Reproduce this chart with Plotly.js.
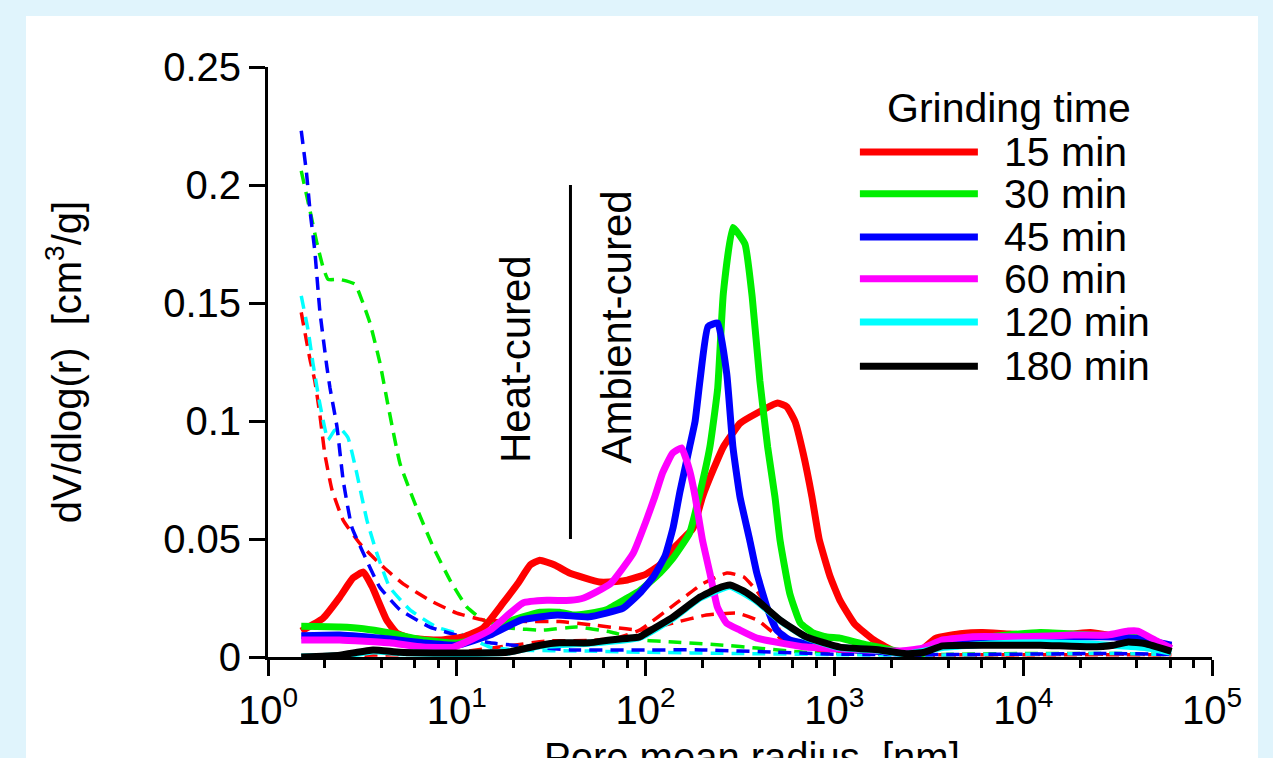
<!DOCTYPE html>
<html>
<head>
<meta charset="utf-8">
<script src="https://cdn.plot.ly/plotly-3.0.1.min.js"></script>
<style>
  html, body { margin: 0; padding: 0; background: rgb(224,244,252); width: 1273px; height: 758px; overflow: hidden; }
  #chart { position: absolute; left: 26px; top: 16px; width: 1232px; height: 742px; background: #ffffff; }
</style>
</head>
<body>
<div id="chart"></div>
<script>
// ---------- data (pore mean radius in nm, dV/dlog(r) in cm3/g) ----------
// Ambient-cured (solid lines)
const r15 = [1.5, 1.96, 2.4, 2.82, 3.2, 3.55, 4.25, 4.8, 5.65, 8.1, 10.8, 13.8, 17.6, 21, 24.5, 27.5, 33, 39.5, 57, 70, 80, 100, 119, 140, 178, 200, 230, 258, 290, 316, 390, 500, 560, 620, 683, 760, 830, 950, 1070, 1280, 1600, 2000, 2400, 2800, 3430, 4770, 6100, 8500, 12300, 18000, 22700, 27900, 36000, 45000, 61000];
const v15 = [0.011, 0.0165, 0.0254, 0.0335, 0.036, 0.030, 0.0157, 0.0102, 0.008, 0.0072, 0.0085, 0.0123, 0.0229, 0.031, 0.039, 0.041, 0.039, 0.0356, 0.0318, 0.032, 0.0326, 0.035, 0.039, 0.046, 0.0545, 0.0678, 0.080, 0.089, 0.095, 0.099, 0.1034, 0.1076, 0.106, 0.0996, 0.0864, 0.068, 0.050, 0.034, 0.024, 0.014, 0.0075, 0.003, 0.001, 0.002, 0.0079, 0.010, 0.0104, 0.0097, 0.0093, 0.0097, 0.0104, 0.0093, 0.0075, 0.0065, 0.0043];

const r30 = [1.5, 2.4, 3.2, 4.4, 6.6, 10, 12.5, 15, 19, 22.4, 27.6, 35, 41, 50, 62, 80, 93, 119, 140, 171, 194, 219, 241, 258, 290, 336, 367, 403, 443, 484, 515, 580, 660, 770, 910, 1070, 1390, 2180, 2690, 3000, 3740, 6650, 12300, 22700, 40000, 61000];
const v30 = [0.013, 0.0127, 0.012, 0.0102, 0.0072, 0.0059, 0.0075, 0.0102, 0.015, 0.017, 0.019, 0.019, 0.0178, 0.0185, 0.020, 0.025, 0.028, 0.0356, 0.042, 0.0525, 0.0695, 0.089, 0.114, 0.154, 0.182, 0.175, 0.1525, 0.117, 0.089, 0.068, 0.0496, 0.027, 0.0144, 0.0102, 0.0085, 0.008, 0.0057, 0.0024, 0.0, 0.002, 0.0064, 0.0086, 0.0104, 0.0093, 0.0085, 0.0036];

const r45 = [1.5, 2.4, 4.4, 6.6, 10, 15, 22, 34, 50, 76, 93, 110, 127, 140, 152, 171, 183, 194, 214, 241, 269, 290, 316, 356, 388, 440, 495, 580, 870, 1300, 2000, 2700, 3700, 6000, 10000, 20000, 30000, 40000, 61000];
const v45 = [0.009, 0.0093, 0.0076, 0.006, 0.005, 0.0093, 0.0157, 0.0178, 0.017, 0.0207, 0.027, 0.034, 0.043, 0.055, 0.070, 0.089, 0.100, 0.117, 0.140, 0.1415, 0.120, 0.089, 0.068, 0.0496, 0.0356, 0.021, 0.0114, 0.0072, 0.0042, 0.003, 0.002, 0.001, 0.005, 0.0075, 0.0078, 0.0085, 0.0085, 0.0078, 0.005];

const r60 = [1.5, 2.4, 4.4, 6.6, 9.6, 15, 22.4, 30, 40, 47, 65, 86, 101, 112, 123, 139, 155, 171, 183, 200, 219, 240, 268, 316, 388, 515, 710, 1000, 1500, 2200, 2900, 3740, 5400, 10000, 18500, 28000, 36000, 40500, 52000, 61000];
const v60 = [0.0072, 0.0072, 0.006, 0.0042, 0.0042, 0.0114, 0.0229, 0.024, 0.024, 0.025, 0.031, 0.044, 0.058, 0.068, 0.078, 0.0864, 0.0886, 0.079, 0.068, 0.0496, 0.0356, 0.0212, 0.0144, 0.0114, 0.008, 0.006, 0.0042, 0.0035, 0.003, 0.0025, 0.0036, 0.0072, 0.0086, 0.0086, 0.0093, 0.0093, 0.011, 0.011, 0.0064, 0.0036];

const r120 = [1.5, 2.4, 3.6, 5, 10, 18.5, 27.6, 50, 93, 140, 194, 280, 390, 515, 710, 1070, 1740, 2400, 3740, 6650, 12300, 22700, 36000, 44000, 61000];
const v120 = [0.0, 0.0005, 0.0025, 0.0018, 0.0015, 0.002, 0.0048, 0.0058, 0.0083, 0.0165, 0.025, 0.030, 0.0235, 0.0155, 0.0083, 0.004, 0.0028, 0.0012, 0.004, 0.0055, 0.006, 0.0055, 0.0045, 0.004, 0.002];

const r180 = [1.5, 2.4, 3.6, 5, 10, 18.5, 27.6, 35, 50, 65, 93, 101, 140, 194, 240, 280, 330, 390, 515, 710, 1070, 1740, 2400, 3000, 3740, 6650, 12300, 22700, 30000, 36000, 44000, 61000];
const v180 = [0.0, 0.0008, 0.003, 0.002, 0.0017, 0.002, 0.005, 0.006, 0.006, 0.0072, 0.0085, 0.0102, 0.017, 0.0254, 0.029, 0.0305, 0.028, 0.024, 0.0157, 0.0085, 0.0042, 0.003, 0.0014, 0.002, 0.0047, 0.005, 0.005, 0.0043, 0.005, 0.0064, 0.0057, 0.0024];

// Heat-cured (dashed lines)
const r15h = [1.5, 1.67, 1.77, 1.88, 2.0, 2.18, 2.5, 3.07, 4.1, 5.2, 7.2, 10, 13.8, 23.5, 35, 52, 95, 140, 210, 305, 390, 475, 560, 800, 1500, 3000, 10000, 30000, 61000];
const v15h = [0.146, 0.126, 0.117, 0.103, 0.086, 0.071, 0.058, 0.048, 0.038, 0.031, 0.024, 0.0186, 0.0157, 0.015, 0.015, 0.0136, 0.0114, 0.0144, 0.0178, 0.0186, 0.0157, 0.0102, 0.006, 0.003, 0.0015, 0.0008, 0.001, 0.0012, 0.001];

const r15h2 = [1.5, 5, 10, 20, 30, 50, 70, 93, 146, 200, 270, 330, 388, 475, 535, 700, 1500, 3000, 10000, 61000];
const v15h2 = [0.0005, 0.001, 0.002, 0.005, 0.0068, 0.007, 0.008, 0.0114, 0.0229, 0.031, 0.0356, 0.034, 0.028, 0.017, 0.0085, 0.004, 0.002, 0.001, 0.001, 0.001];

const r30h = [1.5, 1.67, 1.82, 1.96, 2.08, 2.4, 2.89, 3.15, 3.47, 3.92, 4.3, 5.0, 6.1, 7.5, 9.2, 11.3, 13.8, 19, 28.7, 43, 65, 97, 140, 258, 388, 700, 1500, 3000, 10000, 30000, 61000];
const v30h = [0.206, 0.189, 0.175, 0.165, 0.160, 0.160, 0.158, 0.151, 0.1415, 0.1245, 0.1076, 0.082, 0.0636, 0.0466, 0.0326, 0.0212, 0.0157, 0.0123, 0.0114, 0.0127, 0.0106, 0.0072, 0.0064, 0.005, 0.0038, 0.002, 0.0012, 0.001, 0.0015, 0.0015, 0.001];

const r45h = [1.5, 1.6, 1.67, 1.77, 1.88, 2.05, 2.13, 2.32, 2.5, 2.78, 3.2, 3.9, 5, 7.2, 10.8, 15, 20, 40, 100, 200, 500, 1000, 3000, 10000, 30000, 61000];
const v45h = [0.223, 0.205, 0.189, 0.172, 0.147, 0.123, 0.114, 0.0975, 0.075, 0.055, 0.044, 0.0297, 0.02, 0.0127, 0.0085, 0.006, 0.005, 0.003, 0.003, 0.003, 0.002, 0.0012, 0.001, 0.0012, 0.0015, 0.001];

const r120h = [1.5, 1.63, 1.73, 1.88, 2.08, 2.25, 2.4, 2.65, 2.95, 3.34, 3.77, 4.4, 5.65, 7.8, 10.8, 15, 20, 50, 100, 300, 1000, 3000, 10000, 30000, 61000];
const v120h = [0.153, 0.1385, 0.1245, 0.1075, 0.092, 0.096, 0.097, 0.093, 0.078, 0.058, 0.044, 0.0297, 0.02, 0.0127, 0.0093, 0.0042, 0.003, 0.0025, 0.002, 0.0015, 0.001, 0.0008, 0.0012, 0.0015, 0.001];

const seriesNames = ['15 min', '30 min', '45 min', '60 min', '120 min', '180 min'];
const seriesColors = ['#ff0000', '#00ee00', '#0000ff', '#ff00ff', '#00ffff', '#000000'];
const legendTitle = 'Grinding time';
const xTitle = 'Pore mean radius  [nm]';
const yTitle = 'dV/dlog(r)  [cm<sup>3</sup>/g]';

const xTickVals = [1, 10, 100, 1000, 10000, 100000];
const xTickText = ['10<sup>0</sup>', '10<sup>1</sup>', '10<sup>2</sup>', '10<sup>3</sup>', '10<sup>4</sup>', '10<sup>5</sup>'];
const xMinorVals = [2, 4, 6, 8, 20, 40, 60, 80, 200, 400, 600, 800, 2000, 4000, 6000, 8000, 20000, 40000, 60000, 80000];
const yTickVals = [0, 0.05, 0.1, 0.15, 0.2, 0.25];
const yTickText = ['0', '0.05', '0.1', '0.15', '0.2', '0.25'];

// ---------- traces ----------
const FONT = 'Liberation Sans, Arial, Helvetica, sans-serif';
const traces = [];
function dashed(x, y, color, name) {
  traces.push({ x: x, y: y, type: 'scatter', mode: 'lines', name: name, showlegend: false,
    line: { color: color, width: 3.5, dash: '13px,8px', shape: 'spline', smoothing: 0.4 }, hoverinfo: 'skip' });
}
function solid(x, y, color, name) {
  traces.push({ x: x, y: y, type: 'scatter', mode: 'lines', name: name, showlegend: false,
    line: { color: color, width: 7, shape: 'spline', smoothing: 0.4 } });
}
dashed(r30h, v30h, seriesColors[1], '30 min heat-cured');
dashed(r15h, v15h, seriesColors[0], '15 min heat-cured');
dashed(r15h2, v15h2, seriesColors[0], '15 min heat-cured (2)');
dashed(r120h, v120h, seriesColors[4], '120 min heat-cured');
dashed(r45h, v45h, seriesColors[2], '45 min heat-cured');

const solidX = [r15, r30, r45, r60, r120, r180];
const solidY = [v15, v30, v45, v60, v120, v180];
for (let i = 0; i < 6; i++) solid(solidX[i], solidY[i], seriesColors[i], seriesNames[i]);

// ---------- legend drawn in paper coordinates ----------
const shapes = [];
const annotations = [];
const legX0 = 0.627, legX1 = 0.752, legTextX = 0.778;
const legY = [0.856, 0.785, 0.712, 0.641, 0.568, 0.493];
for (let i = 0; i < 6; i++) {
  shapes.push({ type: 'line', xref: 'paper', yref: 'paper', x0: legX0, x1: legX1, y0: legY[i], y1: legY[i],
    line: { color: seriesColors[i], width: 7 } });
  annotations.push({ xref: 'paper', yref: 'paper', x: legTextX, y: legY[i], xanchor: 'left', yanchor: 'middle',
    text: seriesNames[i], showarrow: false, font: { family: FONT, size: 41, color: '#000' } });
}
annotations.push({ xref: 'paper', yref: 'paper', x: 0.785, y: 0.93, xanchor: 'center', yanchor: 'middle',
  text: legendTitle, showarrow: false, font: { family: FONT, size: 41, color: '#000' } });

// divider between heat-cured and ambient-cured
shapes.push({ type: 'line', xref: 'x', yref: 'y', x0: 40, x1: 40, y0: 0.05, y1: 0.2, line: { color: '#000', width: 3 } });
annotations.push({ xref: 'paper', yref: 'paper', x: 0.2617, y: 0.3254, xanchor: 'center', yanchor: 'bottom', textangle: -90,
  text: 'Heat-cured', showarrow: false, font: { family: FONT, size: 42, color: '#000' } });
annotations.push({ xref: 'paper', yref: 'paper', x: 0.3697, y: 0.3254, xanchor: 'center', yanchor: 'bottom', textangle: -90,
  text: 'Ambient-cured', showarrow: false, font: { family: FONT, size: 42, color: '#000' } });

// x-axis title, placed below the tick labels (partly cut by the page edge, as in the original)
annotations.push({ xref: 'paper', yref: 'paper', x: 0.513, y: -0.129, xanchor: 'center', yanchor: 'top',
  text: xTitle, showarrow: false, font: { family: FONT, size: 40, color: '#000' } });

const layout = {
  width: 1232, height: 742,
  margin: { l: 242, r: 46, t: 51, b: 101 },
  paper_bgcolor: '#ffffff', plot_bgcolor: '#ffffff',
  font: { family: FONT, size: 40, color: '#000' },
  showlegend: false,
  xaxis: {
    type: 'log', range: [0, 5], showgrid: false, zeroline: false,
    showline: true, linecolor: '#000', linewidth: 3,
    ticks: 'outside', ticklen: 16, tickwidth: 3, tickcolor: '#000',
    tickmode: 'array', tickvals: xTickVals, ticktext: xTickText,
    tickfont: { family: FONT, size: 40, color: '#000' },
    minor: { ticks: 'outside', ticklen: 8, tickwidth: 3, tickcolor: '#000', tickmode: 'array', tickvals: xMinorVals, showgrid: false }
  },
  yaxis: {
    range: [0, 0.25], showgrid: false, zeroline: false,
    showline: true, linecolor: '#000', linewidth: 3,
    ticks: 'outside', ticklen: 16, tickwidth: 3, tickcolor: '#000',
    tickmode: 'array', tickvals: yTickVals, ticktext: yTickText,
    tickfont: { family: FONT, size: 40, color: '#000' },
    title: { text: yTitle, font: { family: FONT, size: 40, color: '#000' }, standoff: 70 }
  },
  shapes: shapes,
  annotations: annotations
};

Plotly.newPlot('chart', traces, layout, { displayModeBar: false, staticPlot: true });
</script>
</body>
</html>
